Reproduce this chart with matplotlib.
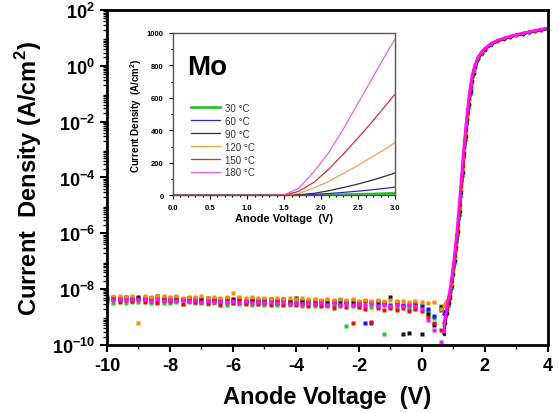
import numpy as np
import matplotlib
matplotlib.use('Agg')
import matplotlib.pyplot as plt
from matplotlib.ticker import FixedLocator, LogLocator, NullFormatter, MultipleLocator

plt.rcParams['font.family'] = ['Liberation Sans', 'DejaVu Sans']
plt.rcParams['font.weight'] = 'bold'
plt.rcParams['mathtext.fontset'] = 'custom'
plt.rcParams['mathtext.rm'] = 'Liberation Sans:bold'
plt.rcParams['mathtext.bf'] = 'Liberation Sans:bold'

temps = ['30 °C', '60 °C', '90 °C', '120 °C', '150 °C', '180 °C']
colors = ['#1ed01e', '#1414f0', '#111111', '#ff8a00', '#e01010', '#ff10ff']
inset_colors = ['#30c030', '#2828d8', '#303030', '#f0a050', '#d83030', '#e860e8']

# reverse / leakage part: -10 ... 0.6 V, step 0.2 V  (log10 J)
v_rev = np.linspace(-10, 0.6, 54)
rev_30 = [-8.45, -8.48, -8.44, -8.50, -8.46, -8.47, -8.43, -8.49, -8.45, -8.51,
          -8.48, -8.46, -8.52, -8.47, -8.50, -8.49, -8.53, -8.48, -8.51, -8.55,
          -8.50, -8.54, -8.49, -8.56, -8.52, -8.55, -8.51, -8.57, -8.53, -8.58,
          -8.54, -8.59, -8.55, -8.60, -8.56, -8.61, -8.57, -8.62, -9.31, -8.59,
          -8.63, -8.60, -8.65, -8.62, -9.60, -8.64, -8.67, -8.62, -8.70, -8.66,
          -8.55, -8.80, -9.05, -8.60]
rev_60 = [-8.33, -8.30, -8.36, -8.32, -8.35, -8.31, -8.37, -8.33, -8.36, -8.34,
          -8.38, -8.34, -8.37, -8.33, -8.40, -8.36, -8.39, -8.35, -8.41, -8.37,
          -8.40, -8.36, -8.42, -8.38, -8.41, -8.43, -8.39, -8.44, -8.40, -8.45,
          -8.42, -8.46, -8.43, -8.48, -8.44, -8.49, -8.45, -8.50, -8.47, -8.52,
          -8.50, -9.21, -9.22, -8.54, -8.51, -8.56, -8.53, -8.58, -8.55, -8.60,
          -8.62, -8.70, -8.95, -8.75]
rev_90 = [-8.30, -8.27, -8.32, -8.29, -8.31, -8.28, -8.33, -8.30, -8.26, -8.32,
          -8.31, -8.29, -8.34, -8.30, -8.33, -8.35, -8.31, -8.34, -8.37, -8.32,
          -8.36, -8.33, -8.38, -8.35, -8.39, -8.37, -8.34, -8.40, -8.36, -8.41,
          -8.30, -8.39, -8.42, -8.38, -8.43, -8.41, -8.44, -8.40, -8.45, -8.42,
          -8.46, -8.43, -8.47, -8.44, -8.48, -8.29, -8.46, -9.60, -9.58, -8.50,
          -9.60, -8.90, -9.30, -8.65]
rev_120 = [-8.25, -8.27, -8.24, -8.28, -8.26, -9.21, -8.25, -8.29, -8.26, -8.24,
           -8.28, -8.25, -8.30, -8.27, -8.29, -8.26, -8.31, -8.28, -8.30, -8.27,
           -8.15, -8.29, -8.32, -8.28, -8.33, -8.30, -8.34, -8.31, -8.35, -8.32,
           -8.36, -8.33, -8.37, -8.34, -8.38, -8.35, -8.39, -8.36, -8.40, -8.37,
           -8.41, -8.38, -8.42, -8.39, -8.43, -8.40, -8.44, -8.41, -8.45, -8.42,
           -8.46, -8.50, -8.45, -8.70]
rev_150 = [-8.40, -8.36, -8.45, -8.38, -8.43, -8.37, -8.46, -8.41, -8.49, -8.39,
           -8.44, -8.40, -8.53, -8.42, -8.47, -8.45, -8.51, -8.43, -8.57, -8.46,
           -8.49, -8.44, -8.54, -8.47, -8.52, -8.50, -8.58, -8.48, -8.55, -8.51,
           -8.56, -8.52, -8.61, -8.54, -8.59, -8.57, -8.66, -8.58, -8.63, -9.20,
           -8.65, -8.70, -9.18, -8.67, -8.73, -8.68, -8.75, -8.66, -8.78, -8.71,
           -8.80, -9.00, -9.20, -9.45]
rev_180 = [-8.36, -8.39, -8.34, -8.38, -8.35, -8.40, -8.36, -8.41, -8.37, -8.42,
           -8.38, -8.43, -8.39, -8.44, -8.40, -8.45, -8.41, -8.46, -8.42, -8.47,
           -8.43, -8.48, -8.44, -8.49, -8.45, -8.50, -8.46, -8.51, -8.47, -8.52,
           -8.48, -8.53, -8.49, -8.54, -8.50, -8.55, -8.51, -8.56, -8.52, -8.57,
           -8.53, -8.58, -8.54, -8.59, -8.55, -8.60, -8.56, -8.61, -8.57, -8.62,
           -8.70, -9.10, -9.45, -9.90]

# forward part (log10 J)
v_fwd = [0.70, 0.75, 0.80, 0.85, 0.90, 0.95, 1.00, 1.05, 1.10, 1.15, 1.20, 1.25,
         1.30, 1.35, 1.40, 1.45, 1.50, 1.55, 1.60, 1.65, 1.70, 1.80, 1.90, 2.00,
         2.20, 2.40, 2.60, 2.80, 3.00, 3.20, 3.40, 3.60, 3.80, 4.00]
fwd_30 = [-9.3, -9.1, -8.9, -8.6, -8.35, -7.95, -7.5, -7.05, -6.6, -6.05, -5.35, -4.65,
          -3.95, -3.25, -2.65, -2.05, -1.5, -1.0, -0.6, -0.30, -0.07, 0.24, 0.44, 0.57,
          0.76, 0.88, 0.96, 1.03, 1.09, 1.14, 1.19, 1.24, 1.28, 1.32]
fwd_60 = [-8.9, -8.8, -8.7, -8.5, -8.3, -7.9, -7.45, -7.0, -6.5, -5.95, -5.25, -4.55,
          -3.85, -3.15, -2.55, -1.95, -1.4, -0.92, -0.55, -0.26, -0.04, 0.26, 0.45, 0.58,
          0.76, 0.88, 0.96, 1.03, 1.09, 1.15, 1.20, 1.24, 1.29, 1.33]
fwd_90 = [-9.6, -9.2, -8.85, -8.5, -8.25, -7.85, -7.4, -6.95, -6.45, -5.9, -5.2, -4.5,
          -3.8, -3.1, -2.5, -1.9, -1.35, -0.88, -0.52, -0.24, -0.02, 0.27, 0.46, 0.59,
          0.77, 0.89, 0.97, 1.04, 1.10, 1.15, 1.20, 1.25, 1.29, 1.33]
fwd_120 = [-8.6, -8.5, -8.4, -8.3, -8.15, -7.8, -7.35, -6.9, -6.4, -5.8, -5.1, -4.4,
           -3.7, -3.0, -2.4, -1.8, -1.25, -0.8, -0.44, -0.17, 0.03, 0.31, 0.49, 0.62,
           0.80, 0.91, 0.99, 1.06, 1.12, 1.17, 1.22, 1.27, 1.31, 1.35]
fwd_150 = [-9.2, -9.0, -8.7, -8.35, -8.1, -7.7, -7.25, -6.8, -6.3, -5.7, -5.0, -4.3,
           -3.6, -2.9, -2.3, -1.7, -1.18, -0.75, -0.41, -0.15, 0.04, 0.32, 0.49, 0.62,
           0.79, 0.90, 0.98, 1.05, 1.11, 1.16, 1.21, 1.26, 1.30, 1.34]
fwd_180 = [-9.5, -9.0, -8.6, -8.25, -7.95, -7.55, -7.1, -6.6, -6.05, -5.45, -4.75, -4.05,
           -3.35, -2.7, -2.1, -1.55, -1.05, -0.65, -0.33, -0.10, 0.08, 0.34, 0.51, 0.63,
           0.80, 0.91, 0.99, 1.06, 1.12, 1.17, 1.22, 1.27, 1.31, 1.36]

# inset (linear J, A/cm2)
v_in = [0.0, 0.5, 1.0, 1.3, 1.5, 1.7, 1.9, 2.1, 2.3, 2.5, 2.7, 2.9, 3.0]
in_30 = [0, 0, 0, 0, 0, 0, 1, 2, 4, 6, 8, 11, 12]
in_60 = [0, 0, 0, 0, 0, 1, 5, 11, 18, 26, 35, 45, 51]
in_90 = [0, 0, 0, 0, 0, 3, 12, 28, 48, 70, 95, 123, 138]
in_120 = [0, 0, 0, 0, 0, 12, 45, 85, 135, 185, 240, 295, 328]
in_150 = [0, 0, 0, 0, 1, 25, 80, 160, 255, 355, 460, 570, 625]
in_180 = [0, 0, 0, 0, 2, 45, 145, 262, 410, 570, 730, 890, 965]

revs = [rev_30, rev_60, rev_90, rev_120, rev_150, rev_180]
fwds = [fwd_30, fwd_60, fwd_90, fwd_120, fwd_150, fwd_180]
ins = [in_30, in_60, in_90, in_120, in_150, in_180]

fig = plt.figure(figsize=(5.59, 4.14), dpi=100)
ax = fig.add_axes([0.1914, 0.1643, 0.7884, 0.8091])

for i in range(6):
    ax.plot(v_rev, 10 ** np.array(revs[i]), 's', ms=2.4, color=colors[i], mec='none')
    ax.plot(v_fwd, 10 ** np.array(fwds[i]), '-', lw=1.8, color=colors[i],
            marker='o', ms=2.6, mec='none')

ax.set_yscale('log')
ax.set_xlim(-10, 4)
ax.set_ylim(1e-10, 1e2)
ax.set_xticks(np.arange(-10, 5, 2))
ax.set_xticklabels([str(t) for t in range(-10, 5, 2)])
ax.xaxis.set_minor_locator(MultipleLocator(1))
yt = [10.0 ** k for k in range(-10, 3, 2)]
ax.yaxis.set_major_locator(FixedLocator(yt))
ax.set_yticklabels([r'$\mathbf{10^{%d}}$' % k for k in range(-10, 3, 2)])
ax.yaxis.set_minor_locator(LogLocator(base=10, subs=np.arange(2, 10), numticks=50))
ax.yaxis.set_minor_formatter(NullFormatter())
ax.tick_params(which='both', direction='out', top=False, right=False,
               labelsize=13, width=1.5)
ax.tick_params(which='major', length=5)
ax.tick_params(which='minor', length=3, width=1.0)
for s in ax.spines.values():
    s.set_linewidth(2)
ax.set_xlabel('Anode Voltage  (V)', fontsize=17, fontweight='bold', labelpad=8)
ax.set_ylabel(r'Current  Density (A/cm$^\mathbf{2}$)', fontsize=17,
              fontweight='bold', labelpad=6)

# inset
ai = fig.add_axes([0.3095, 0.5258, 0.3977, 0.3921])
for i in range(6):
    ai.plot(v_in, ins[i], '-', lw=2.0 if i == 0 else 0.9, color=inset_colors[i], label=temps[i])
ai.set_xlim(0, 3.0)
ai.set_ylim(0, 1000)
ai.set_xticks(np.arange(0, 3.01, 0.5))
ai.set_xticklabels(['%.1f' % t for t in np.arange(0, 3.01, 0.5)])
ai.xaxis.set_minor_locator(MultipleLocator(0.1))
ai.yaxis.set_minor_locator(MultipleLocator(100))
ai.tick_params(which='both', direction='out', labelsize=5.5, width=0.8)
ai.tick_params(which='major', length=3)
ai.tick_params(which='minor', length=1.5)
for s in ai.spines.values():
    s.set_linewidth(1.0)
    s.set_color('#555555')
ai.set_xlabel('Anode Voltage  (V)', fontsize=8, fontweight='bold', labelpad=1)
ai.set_ylabel(r'Current Density  (A/cm$^\mathbf{2}$)', fontsize=7, fontweight='bold', labelpad=2)
ai.text(0.065, 0.745, 'Mo', transform=ai.transAxes, fontsize=20, fontweight='bold')
leg = ai.legend(loc='center left', bbox_to_anchor=(0.04, 0.34), frameon=False,
                fontsize=7, handlelength=3, labelspacing=0.3, handletextpad=0.5)
for t in leg.get_texts():
    t.set_fontweight('normal')
    t.set_color('#333333')

fig.savefig('out.png', dpi=100)
